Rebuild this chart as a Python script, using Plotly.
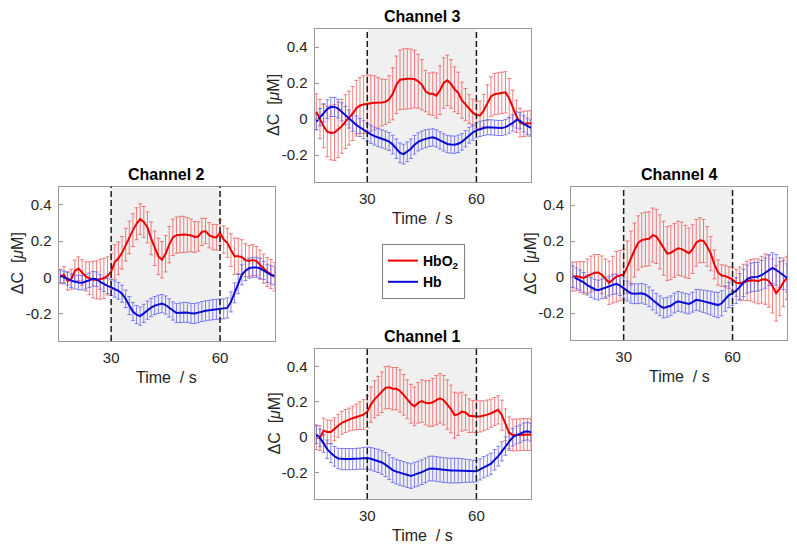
import plotly.graph_objects as go

# ---------------- data ----------------
TIME = list(range(16, 76))  # seconds

CH1_HBO2 = [0.0, -0.005, 0.038, 0.03, 0.03, 0.045, 0.065, 0.082, 0.092, 0.1,
            0.108, 0.115, 0.122, 0.128, 0.145, 0.185, 0.215, 0.235, 0.255, 0.28,
            0.283, 0.275, 0.275, 0.262, 0.24, 0.215, 0.19, 0.175, 0.195, 0.205,
            0.195, 0.192, 0.198, 0.21, 0.22, 0.21, 0.185, 0.16, 0.125, 0.13,
            0.145, 0.14, 0.122, 0.118, 0.117, 0.118, 0.121, 0.128, 0.136, 0.145,
            0.155, 0.125, 0.07, 0.025, 0.012, 0.013, 0.015, 0.016, 0.015, 0.015]
CH1_HBO2_ERR = [0.07, 0.07, 0.07, 0.068, 0.066, 0.065, 0.065, 0.065, 0.065, 0.065,
                0.068, 0.072, 0.078, 0.085, 0.09, 0.1, 0.105, 0.11, 0.115, 0.12,
                0.12, 0.12, 0.12, 0.12, 0.115, 0.11, 0.11, 0.11, 0.115, 0.12,
                0.125, 0.13, 0.135, 0.14, 0.14, 0.14, 0.14, 0.135, 0.13, 0.12,
                0.11, 0.1, 0.095, 0.09, 0.09, 0.088, 0.085, 0.083, 0.08, 0.08,
                0.08, 0.085, 0.09, 0.09, 0.09, 0.09, 0.09, 0.09, 0.09, 0.09]
CH1_HB = [0.015, -0.004, -0.035, -0.068, -0.09, -0.108, -0.12, -0.124, -0.124, -0.124,
          -0.124, -0.123, -0.121, -0.119, -0.118, -0.122, -0.128, -0.134, -0.143, -0.155,
          -0.17, -0.186, -0.195, -0.202, -0.208, -0.215, -0.22, -0.212, -0.206, -0.198,
          -0.188, -0.178, -0.177, -0.18, -0.183, -0.186, -0.188, -0.189, -0.189, -0.189,
          -0.189, -0.19, -0.191, -0.192, -0.193, -0.182, -0.17, -0.16, -0.15, -0.128,
          -0.107, -0.08, -0.05, -0.025, 0.0, 0.012, 0.019, 0.03, 0.034, 0.028]
CH1_HB_ERR = [0.05, 0.05, 0.05, 0.052, 0.054, 0.056, 0.058, 0.06, 0.06, 0.06,
              0.06, 0.06, 0.06, 0.062, 0.062, 0.064, 0.065, 0.066, 0.067, 0.068,
              0.07, 0.07, 0.07, 0.07, 0.07, 0.07, 0.07, 0.07, 0.07, 0.07,
              0.07, 0.07, 0.07, 0.07, 0.07, 0.07, 0.07, 0.07, 0.07, 0.07,
              0.068, 0.066, 0.064, 0.062, 0.06, 0.06, 0.06, 0.06, 0.06, 0.058,
              0.056, 0.054, 0.052, 0.05, 0.05, 0.05, 0.05, 0.05, 0.05, 0.05]

CH2_HBO2 = [0.005, 0.014, -0.02, -0.01, 0.035, 0.048, 0.027, 0.005, -0.005, -0.012,
            -0.014, -0.01, -0.005, 0.008, 0.032, 0.085, 0.105, 0.135, 0.18, 0.22,
            0.26, 0.295, 0.32, 0.305, 0.275, 0.215, 0.16, 0.115, 0.097, 0.13,
            0.18, 0.22, 0.232, 0.236, 0.236, 0.234, 0.231, 0.222, 0.225, 0.25,
            0.255, 0.232, 0.222, 0.22, 0.245, 0.208, 0.19, 0.15, 0.116, 0.116,
            0.112, 0.095, 0.09, 0.095, 0.09, 0.07, 0.048, 0.03, 0.018, 0.004]
CH2_HBO2_ERR = [0.04, 0.045, 0.05, 0.055, 0.06, 0.065, 0.07, 0.08, 0.09, 0.1,
                0.105, 0.11, 0.11, 0.105, 0.1, 0.095, 0.09, 0.09, 0.09, 0.09,
                0.09, 0.088, 0.085, 0.085, 0.085, 0.09, 0.095, 0.1, 0.1, 0.1,
                0.1, 0.1, 0.1, 0.1, 0.1, 0.095, 0.09, 0.085, 0.08, 0.075,
                0.07, 0.07, 0.07, 0.07, 0.07, 0.075, 0.08, 0.09, 0.1, 0.1,
                0.095, 0.09, 0.085, 0.085, 0.08, 0.08, 0.08, 0.08, 0.08, 0.08]
CH2_HB = [0.006, 0.0, -0.007, -0.018, -0.025, -0.028, -0.029, -0.024, -0.016, -0.008,
          -0.01, -0.025, -0.038, -0.047, -0.055, -0.064, -0.074, -0.09, -0.118, -0.155,
          -0.188, -0.205, -0.213, -0.198, -0.18, -0.166, -0.155, -0.148, -0.144, -0.152,
          -0.168, -0.185, -0.196, -0.195, -0.192, -0.193, -0.198, -0.199, -0.194, -0.188,
          -0.184, -0.181, -0.178, -0.176, -0.174, -0.173, -0.168, -0.135, -0.085, -0.035,
          0.014, 0.037, 0.05, 0.055, 0.055, 0.05, 0.038, 0.022, 0.014, 0.008]
CH2_HB_ERR = [0.035, 0.035, 0.036, 0.037, 0.038, 0.04, 0.04, 0.04, 0.04, 0.04,
              0.04, 0.04, 0.04, 0.042, 0.044, 0.045, 0.046, 0.047, 0.048, 0.05,
              0.05, 0.05, 0.05, 0.05, 0.05, 0.05, 0.05, 0.05, 0.05, 0.05,
              0.05, 0.05, 0.052, 0.054, 0.055, 0.055, 0.055, 0.055, 0.055, 0.055,
              0.055, 0.055, 0.055, 0.055, 0.055, 0.055, 0.055, 0.055, 0.055, 0.055,
              0.055, 0.055, 0.055, 0.055, 0.055, 0.055, 0.05, 0.05, 0.05, 0.05]

CH3_HBO2 = [0.04, 0.0, -0.04, -0.07, -0.077, -0.075, -0.06, -0.04, -0.015, 0.005,
            0.03, 0.06, 0.075, 0.08, 0.085, 0.088, 0.09, 0.09, 0.092, 0.095,
            0.11, 0.14, 0.19, 0.218, 0.222, 0.223, 0.223, 0.222, 0.21, 0.19,
            0.155, 0.14, 0.14, 0.13, 0.16, 0.2, 0.215, 0.195, 0.165, 0.145,
            0.105, 0.08, 0.055, 0.035, 0.022, 0.02, 0.047, 0.09, 0.125, 0.138,
            0.142, 0.145, 0.148, 0.115, 0.06, 0.015, -0.02, -0.027, -0.025, -0.024]
CH3_HBO2_ERR = [0.1, 0.11, 0.12, 0.14, 0.15, 0.155, 0.155, 0.15, 0.15, 0.15,
                0.15, 0.155, 0.155, 0.16, 0.16, 0.155, 0.15, 0.14, 0.13, 0.125,
                0.13, 0.145, 0.16, 0.165, 0.168, 0.168, 0.165, 0.16, 0.15, 0.14,
                0.115, 0.115, 0.12, 0.125, 0.135, 0.14, 0.14, 0.135, 0.125, 0.115,
                0.1, 0.09, 0.08, 0.075, 0.075, 0.08, 0.09, 0.1, 0.11, 0.115,
                0.115, 0.115, 0.115, 0.11, 0.1, 0.09, 0.08, 0.07, 0.07, 0.07]
CH3_HB = [-0.015, 0.01, 0.035, 0.055, 0.067, 0.067, 0.058, 0.04, 0.02, 0.0,
          -0.018, -0.033, -0.047, -0.06, -0.074, -0.085, -0.095, -0.104, -0.11, -0.117,
          -0.125, -0.142, -0.165, -0.188, -0.195, -0.182, -0.165, -0.143, -0.127, -0.117,
          -0.11, -0.105, -0.102, -0.108, -0.119, -0.13, -0.139, -0.142, -0.143, -0.138,
          -0.127, -0.11, -0.09, -0.075, -0.063, -0.055, -0.05, -0.046, -0.046, -0.048,
          -0.05, -0.05, -0.045, -0.035, -0.022, -0.005, -0.01, -0.027, -0.04, -0.05]
CH3_HB_ERR = [0.045, 0.048, 0.05, 0.052, 0.053, 0.053, 0.052, 0.05, 0.05, 0.05,
              0.05, 0.05, 0.05, 0.05, 0.05, 0.05, 0.05, 0.05, 0.05, 0.05,
              0.05, 0.052, 0.054, 0.055, 0.055, 0.055, 0.054, 0.052, 0.05, 0.05,
              0.05, 0.048, 0.048, 0.048, 0.048, 0.048, 0.048, 0.048, 0.048, 0.048,
              0.046, 0.045, 0.044, 0.043, 0.042, 0.042, 0.042, 0.042, 0.042, 0.042,
              0.042, 0.042, 0.043, 0.044, 0.045, 0.045, 0.045, 0.045, 0.045, 0.045]

CH4_HBO2 = [0.002, 0.004, 0.0, -0.005, 0.005, 0.016, 0.024, 0.025, 0.012, -0.01,
            -0.032, -0.015, 0.002, 0.008, 0.014, 0.055, 0.105, 0.15, 0.19, 0.205,
            0.21, 0.212, 0.233, 0.225, 0.195, 0.16, 0.13, 0.135, 0.148, 0.16,
            0.155, 0.142, 0.132, 0.155, 0.19, 0.204, 0.2, 0.17, 0.13, 0.07,
            0.025, 0.008, 0.005, -0.003, -0.014, -0.032, -0.035, -0.029, -0.022, -0.018,
            -0.02, -0.024, -0.015, -0.012, -0.022, -0.05, -0.09, -0.065, -0.03, -0.005]
CH4_HBO2_ERR = [0.08, 0.08, 0.085, 0.09, 0.095, 0.1, 0.1, 0.1, 0.105, 0.11,
                0.12, 0.13, 0.14, 0.14, 0.14, 0.145, 0.15, 0.15, 0.15, 0.15,
                0.15, 0.15, 0.15, 0.15, 0.15, 0.15, 0.15, 0.15, 0.15, 0.15,
                0.15, 0.145, 0.14, 0.135, 0.13, 0.125, 0.12, 0.11, 0.095, 0.08,
                0.07, 0.06, 0.06, 0.06, 0.065, 0.075, 0.09, 0.1, 0.11, 0.115,
                0.12, 0.125, 0.13, 0.14, 0.145, 0.15, 0.155, 0.15, 0.135, 0.12]
CH4_HB = [0.002, -0.008, -0.017, -0.03, -0.045, -0.058, -0.068, -0.073, -0.066, -0.057,
          -0.05, -0.042, -0.038, -0.048, -0.061, -0.078, -0.09, -0.093, -0.093, -0.09,
          -0.097, -0.11, -0.128, -0.146, -0.16, -0.172, -0.168, -0.16, -0.145, -0.135,
          -0.14, -0.146, -0.15, -0.14, -0.127, -0.13, -0.135, -0.14, -0.145, -0.152,
          -0.156, -0.146, -0.12, -0.1, -0.089, -0.076, -0.055, -0.033, -0.012, -0.003,
          0.0, 0.002, 0.01, 0.022, 0.037, 0.05, 0.04, 0.025, 0.01, -0.005]
CH4_HB_ERR = [0.06, 0.058, 0.056, 0.055, 0.055, 0.055, 0.055, 0.055, 0.055, 0.055,
              0.055, 0.055, 0.055, 0.055, 0.055, 0.055, 0.055, 0.055, 0.055, 0.055,
              0.055, 0.055, 0.055, 0.055, 0.055, 0.055, 0.055, 0.055, 0.055, 0.055,
              0.055, 0.055, 0.055, 0.055, 0.058, 0.06, 0.062, 0.064, 0.066, 0.068,
              0.07, 0.07, 0.07, 0.07, 0.07, 0.072, 0.074, 0.076, 0.078, 0.08,
              0.08, 0.08, 0.082, 0.084, 0.085, 0.085, 0.085, 0.082, 0.08, 0.078]

STIM_START = 30
STIM_END = 60
X_RANGE = [15.5, 75]
Y_RANGE = [-0.35, 0.5]
X_TICKS = [30, 60]
Y_TICKS = [-0.2, 0, 0.2, 0.4]
Y_TICK_LABELS = ["-0.2", "0", "0.2", "0.4"]
SERIES_NAMES = ["HbO<sub>2</sub>", "Hb"]

# ---------------- layout geometry ----------------
# The page body has an 8px margin, so the figure is drawn 8px in from the window corner.
PAGE_OFF = 8
WIN_W, WIN_H = 797, 550
W, H = WIN_W - PAGE_OFF, WIN_H - PAGE_OFF


def px(xw):
    return (xw - PAGE_OFF) / W


def py(yw):
    return 1 - (yw - PAGE_OFF) / H


# name, data, box in window pixels (left, top, right, bottom)
PANELS = [
    ("Channel 1", CH1_HBO2, CH1_HBO2_ERR, CH1_HB, CH1_HB_ERR, (314.5, 349, 531, 499)),
    ("Channel 2", CH2_HBO2, CH2_HBO2_ERR, CH2_HB, CH2_HB_ERR, (58.5, 186.5, 274.5, 341)),
    ("Channel 3", CH3_HBO2, CH3_HBO2_ERR, CH3_HB, CH3_HB_ERR, (314.5, 29, 531, 182)),
    ("Channel 4", CH4_HBO2, CH4_HBO2_ERR, CH4_HB, CH4_HB_ERR, (571, 187, 787, 340)),
]

RED = "rgb(240,0,0)"
BLUE = "rgb(10,10,215)"
RED_ERR = "rgba(236,95,95,0.8)"
BLUE_ERR = "rgba(100,100,236,0.8)"
FONT = "Liberation Sans, Arial, Helvetica, sans-serif"
AXCOL = "#999999"
TXT = "#262626"

fig = go.Figure()
layout = dict(width=W, height=H, margin=dict(l=0, r=0, t=0, b=0),
              paper_bgcolor="white", plot_bgcolor="white",
              font=dict(family=FONT, size=15, color=TXT),
              showlegend=True)
shapes = []
annotations = []

for i, (name, hbo2, hbo2_err, hb, hb_err, box) in enumerate(PANELS, start=1):
    l, t, r, b = box
    xa = "xaxis" if i == 1 else f"xaxis{i}"
    ya = "yaxis" if i == 1 else f"yaxis{i}"
    xr = "x" if i == 1 else f"x{i}"
    yr = "y" if i == 1 else f"y{i}"
    layout[xa] = dict(domain=[px(l), px(r)], anchor=yr, range=X_RANGE,
                      tickvals=X_TICKS, ticks="inside", ticklen=4, tickcolor=AXCOL,
                      showline=True, linecolor=AXCOL, linewidth=1, mirror=True,
                      showgrid=False, zeroline=False, tickfont=dict(size=15, color=TXT),
                      ticklabelstandoff=3)
    layout[ya] = dict(domain=[py(b), py(t)], anchor=xr, range=Y_RANGE,
                      tickvals=Y_TICKS, ticktext=Y_TICK_LABELS, ticks="inside",
                      ticklen=4, tickcolor=AXCOL, showline=True, linecolor=AXCOL,
                      linewidth=1, mirror=True, showgrid=False, zeroline=False,
                      tickfont=dict(size=15, color=TXT), ticklabelstandoff=3)

    # error bars (drawn first)
    for vals, errs, col in ((hbo2, hbo2_err, RED_ERR), (hb, hb_err, BLUE_ERR)):
        fig.add_trace(go.Scatter(x=TIME, y=vals, mode="markers", xaxis=xr, yaxis=yr,
                                 marker=dict(size=1, opacity=0), showlegend=False,
                                 hoverinfo="skip",
                                 error_y=dict(type="data", array=errs, visible=True,
                                              color=col, thickness=1, width=2)))
    # mean lines
    fig.add_trace(go.Scatter(x=TIME, y=hbo2, mode="lines", xaxis=xr, yaxis=yr,
                             line=dict(color=RED, width=2), showlegend=False,
                             name=SERIES_NAMES[0]))
    fig.add_trace(go.Scatter(x=TIME, y=hb, mode="lines", xaxis=xr, yaxis=yr,
                             line=dict(color=BLUE, width=2), showlegend=False,
                             name=SERIES_NAMES[1]))

    # stimulation block
    shapes.append(dict(type="rect", xref=xr, yref=f"{yr} domain", x0=STIM_START,
                       x1=STIM_END, y0=0, y1=1, fillcolor="#f0f0f0",
                       line=dict(width=0), layer="below"))
    for xv in (STIM_START, STIM_END):
        shapes.append(dict(type="line", xref=xr, yref=f"{yr} domain", x0=xv, x1=xv,
                           y0=0, y1=1, line=dict(color="#1a1a1a", width=1.5, dash="6px,3px"),
                           layer="above"))

    cx = (l + r) / 2
    annotations.append(dict(text=f"<b>{name}</b>", xref="paper", yref="paper",
                            x=px(cx), y=py(t - 2), xanchor="center",
                            yanchor="bottom", showarrow=False,
                            font=dict(size=16, color="black")))
    annotations.append(dict(text="Time  / s", xref="paper", yref="paper",
                            x=px(cx), y=py(b + 36), xanchor="center",
                            yanchor="middle", showarrow=False,
                            font=dict(size=16, color=TXT)))
    annotations.append(dict(text="ΔC  [<i>μ</i>M]", xref="paper", yref="paper",
                            x=px(l - 41), y=py((t + b) / 2), xanchor="center",
                            yanchor="middle", textangle=-90, showarrow=False,
                            font=dict(size=16, color=TXT)))

# legend entries
fig.add_trace(go.Scatter(x=[None], y=[None], mode="lines", name=SERIES_NAMES[0],
                         line=dict(color=RED, width=2), xaxis="x", yaxis="y"))
fig.add_trace(go.Scatter(x=[None], y=[None], mode="lines", name=SERIES_NAMES[1],
                         line=dict(color=BLUE, width=2), xaxis="x", yaxis="y"))

layout["legend"] = dict(x=px(382), y=py(244), xanchor="left", yanchor="top",
                        bgcolor="white", bordercolor="#7f7f7f", borderwidth=1,
                        font=dict(size=14, color="black", family=FONT, weight="bold"),
                        itemwidth=30, tracegroupgap=0)
layout["shapes"] = shapes
layout["annotations"] = annotations
fig.update_layout(**layout)

fig.write_html("out.html")
